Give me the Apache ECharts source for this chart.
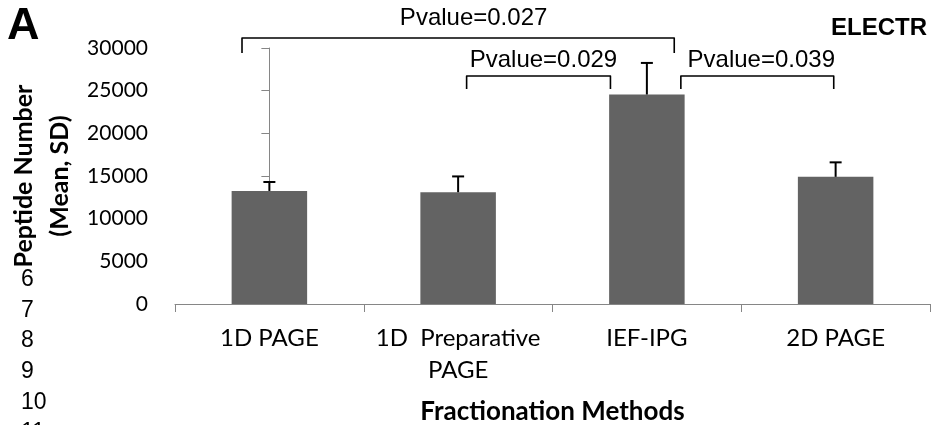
<!DOCTYPE html>
<html>
<head>
<meta charset="utf-8">
<script src="https://cdn.jsdelivr.net/npm/echarts@6/dist/echarts.min.js"></script>
<style>
  html, body { margin: 0; padding: 0; background: #fff; }
  #chart { width: 932px; height: 425px; }
</style>
</head>
<body>
<div id="chart"></div>
<script>
// Fractionation methods and peptide counts (mean and SD)
const methods = ['1D PAGE', '1D  Preparative\nPAGE', 'IEF-IPG', '2D PAGE'];
const peptideMean = [13250, 13100, 24550, 14900];
const peptideSD = [1050, 1850, 3700, 1700];

// Significance brackets: ends in category units, heights in peptide counts
const bracketLabels = ['Pvalue=0.027', 'Pvalue=0.029', 'Pvalue=0.039'];
const bracketLeft = [-0.145, 1.045, 2.18];
const bracketRight = [2.145, 1.807, 2.99];
const bracketTop = [31170, 26720, 26720];
const bracketFoot = [29410, 25200, 25200];
const bracketLabelX = [1.082, 1.452, 2.606];
const bracketLabelY = [33500, 28550, 28550];

// Manuscript line numbers in the margin
const lineNumbers = ['6', '7', '8', '9', '10', '11'];

const calibriLike = 'Lato, "Open Sans", sans-serif';
const arialLike = '"Liberation Sans", Arial, sans-serif';
const axisGrey = '#868686';

const chart = echarts.init(document.getElementById('chart'), null, { renderer: 'canvas' });

const lineNumberGraphics = lineNumbers.map((t, i) => ({
  type: 'text',
  left: 21,
  top: 268 + i * 30.7,
  style: { text: t, fontFamily: arialLike, fontSize: 23, fill: '#000' },
  z: 10
}));

chart.setOption({
  animation: false,
  backgroundColor: '#fff',
  grid: { left: 175, right: 2, top: 48, bottom: 121, containLabel: false, outerBoundsMode: 'none' },
  xAxis: [
    {
      type: 'category',
      data: methods,
      axisLine: { show: true, lineStyle: { color: axisGrey, width: 1 } },
      axisTick: { show: true, alignWithLabel: false, length: 8, lineStyle: { color: axisGrey } },
      axisLabel: {
        interval: 0,
        margin: 18,
        color: '#000',
        fontFamily: calibriLike,
        fontSize: 24,
        lineHeight: 32
      },
      name: 'Fractionation Methods',
      nameLocation: 'middle',
      nameGap: 95,
      nameMoveOverlap: false,
      nameTextStyle: { color: '#000', fontFamily: calibriLike, fontSize: 26, fontWeight: 'bold' }
    },
    {
      type: 'value',
      min: -0.5,
      max: 3.5,
      show: false
    }
  ],
  yAxis: {
    type: 'value',
    min: 0,
    max: 30000,
    interval: 5000,
    axisLine: { show: true, lineStyle: { color: axisGrey, width: 1 } },
    axisTick: { show: true, length: 8, lineStyle: { color: axisGrey } },
    splitLine: { show: false },
    axisLabel: {
      margin: 27,
      color: '#000',
      fontFamily: calibriLike,
      fontSize: 21,
      formatter: v => String(v)
    },
    name: 'Peptide Number\n(Mean, SD)',
    nameLocation: 'middle',
    nameGap: 97,
    nameMoveOverlap: false,
    nameTextStyle: { color: '#000', fontFamily: calibriLike, fontSize: 25, fontWeight: 'bold', lineHeight: 36 }
  },
  graphic: [
    { type: 'text', left: 7, top: 4, style: { text: 'A', fontFamily: arialLike, fontWeight: 'bold', fontSize: 45, fill: '#000' }, z: 10 },
    { type: 'text', left: 831, top: 16, style: { text: 'ELECTR', fontFamily: arialLike, fontWeight: 'bold', fontSize: 24, fill: '#000' }, z: 10 }
  ].concat(lineNumberGraphics),
  series: [
    {
      type: 'bar',
      data: peptideMean,
      barWidth: '40%',
      itemStyle: { color: '#636363' },
      silent: true
    },
    {
      type: 'custom',
      xAxisIndex: 0,
      data: peptideMean.map((m, i) => [i, m, peptideSD[i]]),
      renderItem: function (params, api) {
        const i = api.value(0);
        const m = api.value(1);
        const sd = api.value(2);
        const base = api.coord([i, m]);
        const top = api.coord([i, m + sd]);
        const half = 6;
        const st = { stroke: '#000', lineWidth: 2 };
        return {
          type: 'group',
          children: [
            { type: 'line', shape: { x1: base[0], y1: base[1], x2: top[0], y2: top[1] }, style: st },
            { type: 'line', shape: { x1: top[0] - half, y1: top[1], x2: top[0] + half, y2: top[1] }, style: st }
          ]
        };
      },
      z: 5
    },
    {
      type: 'custom',
      xAxisIndex: 1,
      clip: false,
      data: bracketLabels.map((lab, i) => [bracketLeft[i], bracketRight[i], bracketTop[i], bracketFoot[i], bracketLabelX[i], bracketLabelY[i]]),
      renderItem: function (params, api) {
        const i = params.dataIndex;
        const lf = api.coord([api.value(0), api.value(3)]);
        const lt = api.coord([api.value(0), api.value(2)]);
        const rt = api.coord([api.value(1), api.value(2)]);
        const rf = api.coord([api.value(1), api.value(3)]);
        const tp = api.coord([api.value(4), api.value(5)]);
        return {
          type: 'group',
          children: [
            {
              type: 'polyline',
              shape: { points: [lf, lt, rt, rf] },
              style: { stroke: '#000', lineWidth: 1.6, fill: null, lineJoin: 'round' }
            },
            {
              type: 'text',
              x: tp[0],
              y: tp[1],
              style: {
                text: bracketLabels[i],
                fontFamily: arialLike,
                fontSize: 24,
                fill: '#000',
                align: 'center',
                verticalAlign: 'middle'
              }
            }
          ]
        };
      },
      z: 6
    }
  ]
});
</script>
</body>
</html>
